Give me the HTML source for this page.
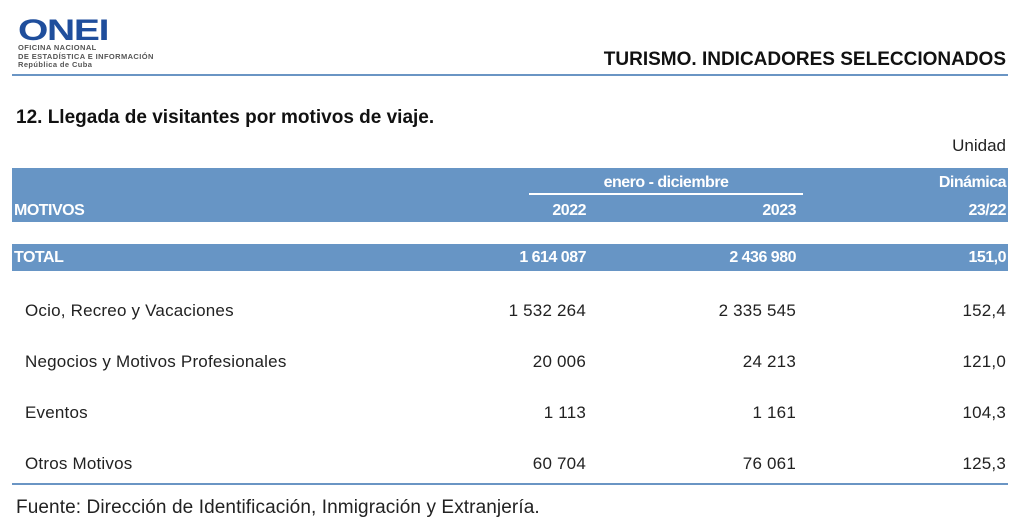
<!DOCTYPE html><html><head><meta charset="utf-8"><style>
body{margin:0;width:1024px;height:525px;background:#fff;font-family:"Liberation Sans",sans-serif;position:relative;overflow:hidden;color:#222}
.a{position:absolute;white-space:nowrap}
.r{text-align:right}
.w{color:#fff;font-weight:bold;font-size:16px;letter-spacing:-0.5px}
.d{font-size:17px;letter-spacing:0.2px}
</style></head><body>
<div class="a" style="left:18px;top:18px;font-size:30px;font-weight:900;color:#1f4e9c;letter-spacing:-1px;line-height:26px;transform:scaleX(1.3);transform-origin:left">ONEI</div>
<div class="a" style="left:18px;top:44px;font-size:7.5px;font-weight:bold;color:#555;line-height:8.5px;letter-spacing:0.4px">OFICINA NACIONAL<br>DE ESTADÍSTICA E INFORMACIÓN<br>República de Cuba</div>
<div class="a" style="left:12px;top:74px;width:996px;height:2px;background:#6a95c4"></div>
<div class="a" style="right:18px;top:49px;font-size:19px;font-weight:bold;color:#111">TURISMO. INDICADORES SELECCIONADOS</div>
<div class="a" style="left:16px;top:107px;font-size:19px;font-weight:bold;color:#111">12. Llegada de visitantes por motivos de viaje.</div>
<div class="a" style="right:18px;top:136px;font-size:17px">Unidad</div>
<div class="a" style="left:12px;top:168px;width:996px;height:54px;background:#6795c5"></div>
<div class="a" style="left:529px;top:193px;width:274px;height:2px;background:#fff"></div>
<div class="a w" style="left:529px;width:274px;top:174px;text-align:center">enero - diciembre</div>
<div class="a w r" style="right:18px;top:174px">Dinámica</div>
<div class="a w" style="left:14px;top:202px">MOTIVOS</div>
<div class="a w r" style="right:438px;top:202px">2022</div>
<div class="a w r" style="right:228px;top:202px">2023</div>
<div class="a w r" style="right:18px;top:202px">23/22</div>
<div class="a" style="left:12px;top:244px;width:996px;height:27px;background:#6795c5"></div>
<div class="a w" style="left:14px;top:249px">TOTAL</div>
<div class="a w r" style="right:438px;top:249px">1 614 087</div>
<div class="a w r" style="right:228px;top:249px">2 436 980</div>
<div class="a w r" style="right:18px;top:249px">151,0</div>
<div class="a d" style="left:25px;top:301px">Ocio, Recreo y Vacaciones</div>
<div class="a d r" style="right:438px;top:301px">1 532 264</div>
<div class="a d r" style="right:228px;top:301px">2 335 545</div>
<div class="a d r" style="right:18px;top:301px">152,4</div>
<div class="a d" style="left:25px;top:352px">Negocios y Motivos Profesionales</div>
<div class="a d r" style="right:438px;top:352px">20 006</div>
<div class="a d r" style="right:228px;top:352px">24 213</div>
<div class="a d r" style="right:18px;top:352px">121,0</div>
<div class="a d" style="left:25px;top:403px">Eventos</div>
<div class="a d r" style="right:438px;top:403px">1 113</div>
<div class="a d r" style="right:228px;top:403px">1 161</div>
<div class="a d r" style="right:18px;top:403px">104,3</div>
<div class="a d" style="left:25px;top:454px">Otros Motivos</div>
<div class="a d r" style="right:438px;top:454px">60 704</div>
<div class="a d r" style="right:228px;top:454px">76 061</div>
<div class="a d r" style="right:18px;top:454px">125,3</div>
<div class="a" style="left:12px;top:483px;width:996px;height:2px;background:#6a95c4"></div>
<div class="a" style="left:16px;top:497px;font-size:19px;letter-spacing:0.1px">Fuente: Dirección de Identificación, Inmigración y Extranjería.</div>
</body></html>
